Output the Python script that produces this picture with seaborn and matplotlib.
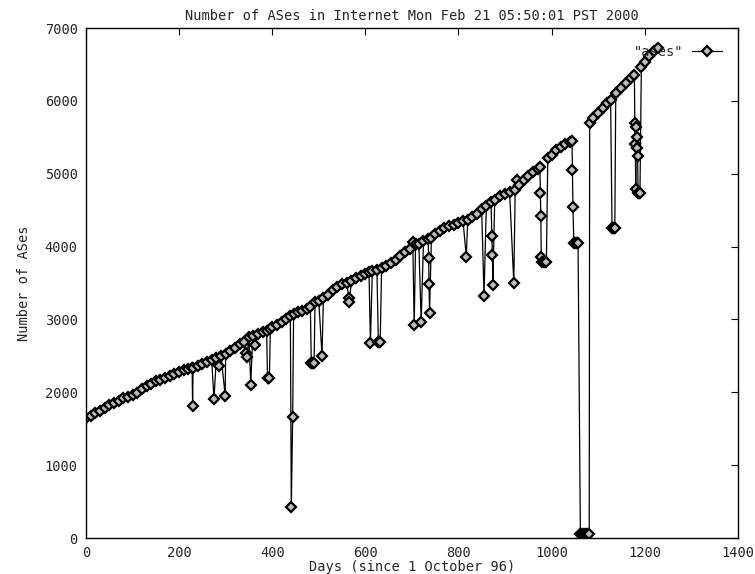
import numpy as np
import pandas as pd
import matplotlib
matplotlib.use("Agg")
import matplotlib.pyplot as plt
import seaborn as sns

# day number and AS count (10 per row)
days = [0, 10, 20, 30, 40, 50, 60, 70, 80, 90,
        100, 110, 120, 130, 140, 150, 160, 170, 180, 190,
        200, 210, 220, 228, 229, 230, 240, 250, 260, 270,
        275, 280, 286, 290, 299, 300, 310, 320, 330, 340,
        343, 346, 350, 354, 358, 362, 370, 380, 388, 390,
        392, 394, 396, 400, 410, 420, 430, 439, 441, 444,
        446, 455, 465, 475, 482, 484, 486, 488, 490, 492,
        500, 507, 510, 520, 530, 540, 550, 560, 565, 566,
        570, 580, 590, 600, 608, 611, 615, 625, 628, 630,
        632, 635, 645, 655, 665, 675, 685, 695, 702, 705,
        708, 715, 720, 725, 735, 736, 737, 738, 742, 750,
        760, 770, 780, 790, 800, 810, 817, 820, 830, 840,
        850, 855, 860, 870, 872, 873, 874, 878, 890, 900,
        910, 919, 922, 925, 930, 940, 950, 960, 970, 975,
        976, 977, 978, 980, 983, 986, 989, 992, 1000, 1010,
        1020, 1030, 1040, 1044, 1045, 1046, 1048, 1051, 1054, 1057,
        1062, 1066, 1070, 1074, 1078, 1081, 1082, 1090, 1100, 1110,
        1120, 1127, 1130, 1132, 1134, 1136, 1138, 1150, 1160, 1170,
        1178, 1179, 1180, 1181, 1182, 1183, 1184, 1185, 1186, 1188,
        1190, 1193, 1200, 1210, 1220, 1229]
ases = [1645, 1680, 1710, 1745, 1780, 1820, 1850, 1880, 1915, 1940,
        1960, 1990, 2040, 2085, 2120, 2150, 2175, 2200, 2230, 2255,
        2280, 2300, 2320, 2335, 1810, 2335, 2360, 2390, 2415, 2440,
        1910, 2470, 2360, 2500, 1955, 2525, 2565, 2610, 2660, 2690,
        2540, 2490, 2760, 2100, 2770, 2650, 2800, 2825, 2840, 2190,
        2190, 2190, 2870, 2890, 2930, 2970, 3010, 3050, 425, 1660,
        3080, 3100, 3120, 3140, 3170, 2405, 2405, 2405, 2405, 3240,
        3255, 2505, 3290, 3330, 3400, 3450, 3480, 3500, 3290, 3240,
        3530, 3570, 3600, 3625, 3645, 2680, 3660, 3680, 2695, 2695,
        2695, 3700, 3740, 3780, 3820, 3870, 3920, 3970, 4060, 2925,
        4030, 4040, 2970, 4070, 4100, 3850, 3490, 3085, 4120, 4170,
        4220, 4250, 4280, 4300, 4320, 4345, 3862, 4370, 4400, 4450,
        4510, 3325, 4560, 4610, 4150, 3890, 3472, 4640, 4690, 4720,
        4750, 3500, 4780, 4913, 4840, 4910, 4970, 5020, 5070, 5096,
        4730, 4424, 3860, 3795, 3795, 3795, 3795, 5210, 5260, 5320,
        5370, 5410, 5440, 5453, 5050, 4547, 4055, 4055, 4055, 4055,
        60, 60, 60, 60, 60, 60, 5690, 5760, 5830, 5900,
        5970, 6012, 4250, 4250, 4250, 4250, 6104, 6180, 6250, 6310,
        6355, 5690, 5408, 4790, 5640, 5500, 5350, 5240, 4730, 4730,
        4730, 6470, 6540, 6620, 6690, 6722]

xticks = [0, 200, 400, 600, 800, 1000, 1200, 1400]
yticks = [0, 1000, 2000, 3000, 4000, 5000, 6000, 7000]

df = pd.DataFrame({"day": days, "ases": ases})

sns.set_style("white")
plt.rcParams["font.family"] = ["DejaVu Sans Mono"]

fig = plt.figure(figsize=(7.55, 5.74), dpi=100)
ax = fig.add_axes([0.1139, 0.0627, 0.8632, 0.8885])

sns.lineplot(data=df, x="day", y="ases", estimator=None, sort=False,
             color="black", linewidth=0.9, marker="D", markersize=5,
             markerfacecolor="#bbbbbb", markeredgecolor="black",
             markeredgewidth=1.6, label='"ases"', ax=ax)

ax.set_xlim(0, 1400)
ax.set_ylim(0, 7000)
ax.set_xticks(xticks)
ax.set_yticks(yticks)
ax.tick_params(direction="in", length=5, width=0.8, top=True, right=True,
               labelsize=9.8, color="black", pad=6)
for s in ax.spines.values():
    s.set_color("black")
    s.set_linewidth(1.0)

ax.set_title("Number of ASes in Internet Mon Feb 21 05:50:01 PST 2000",
             fontsize=9.8, pad=6)
ax.set_xlabel("Days (since 1 October 96)", fontsize=9.8, labelpad=0)
ax.set_ylabel("Number of ASes", fontsize=9.8, labelpad=10)

ax.legend(loc="upper right", bbox_to_anchor=(0.984, 0.978), frameon=False,
          markerfirst=False, handlelength=2.2, fontsize=9.8, borderaxespad=0,
          handletextpad=0.6)

fig.savefig("out.png", dpi=100)
